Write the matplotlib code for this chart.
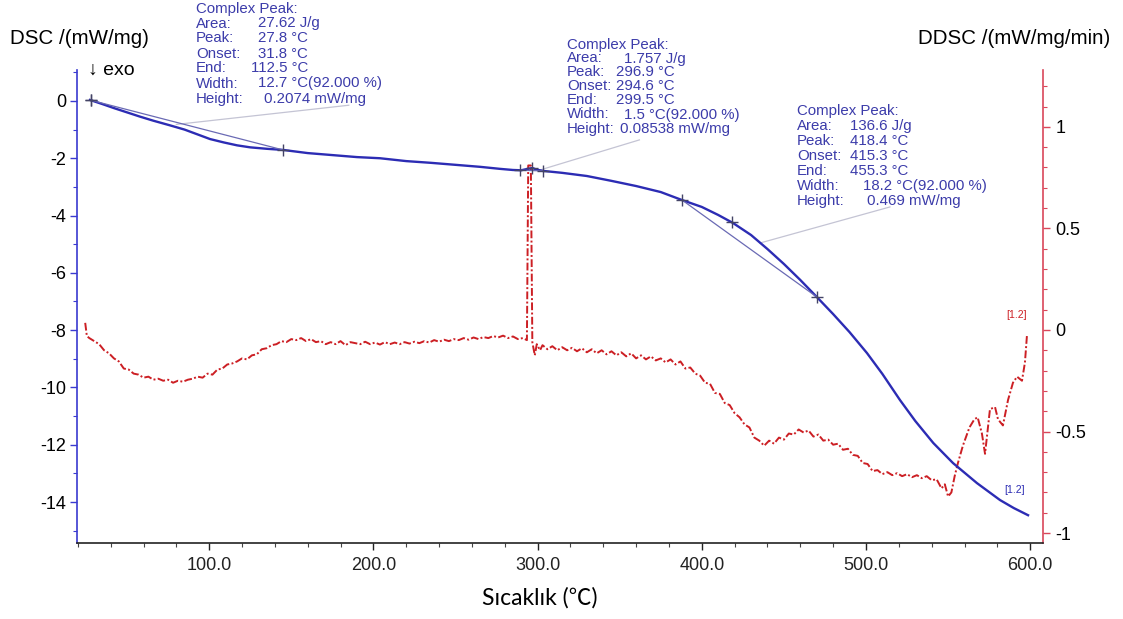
import matplotlib
matplotlib.use("Agg")
import matplotlib.pyplot as plt
from matplotlib.ticker import MultipleLocator, FixedLocator, FuncFormatter

plt.rcParams["font.family"] = ["Liberation Sans", "DejaVu Sans"]
plt.rcParams["axes.unicode_minus"] = False

# ---- DSC signal (left axis, mW/mg) ----
dsc_temp = [27.4, 35, 42, 50, 58, 66, 76, 85, 93, 100.5, 109, 117, 125, 135, 145,
            160, 175, 190, 204, 220, 235, 250, 265, 277, 285, 290, 294, 296.9, 299,
            303, 315, 330, 345, 360, 375, 388, 400, 410, 419, 430, 440, 450, 460,
            470, 480, 490, 500.6, 510, 520.7, 530, 541, 553, 567.6, 581.6, 590, 598.7]
dsc_vals = [0.035, -0.11, -0.25, -0.40, -0.55, -0.69, -0.85, -1.0, -1.17, -1.33,
            -1.45, -1.55, -1.62, -1.67, -1.71,
            -1.82, -1.89, -1.96, -2.0, -2.1, -2.16, -2.23, -2.30, -2.37, -2.41, -2.42,
            -2.37, -2.34, -2.39,
            -2.44, -2.51, -2.62, -2.79, -2.97, -3.18, -3.46, -3.70, -3.98, -4.26,
            -4.68, -5.17, -5.69, -6.25,
            -6.84, -7.44, -8.07, -8.8, -9.53, -10.44, -11.17, -11.94, -12.64, -13.34,
            -13.93, -14.21, -14.46]

# ---- DDSC signal (right axis, mW/mg/min) ----
ddsc_temp = [24.5, 25.5, 27, 30, 33, 36, 39, 42, 45, 48, 51, 54, 57, 60, 63, 66, 69,
             72, 75, 78, 81, 84, 87, 90, 93, 96, 99, 102, 105, 108, 111, 114, 117,
             120, 123, 126, 129, 132, 135, 138, 141, 144, 147, 150, 153, 156, 159,
             162, 165, 168, 171, 174, 177, 180, 183, 186, 189, 192, 195, 198, 201,
             204, 207, 210, 213, 216, 219, 222, 225, 228, 231, 234, 237, 240, 243,
             246, 249, 252, 255, 258, 261, 264, 267, 270, 273, 276, 279, 282, 285,
             288, 291, 293.5, 294.3, 295.9, 296.8, 298.3, 299.5, 301.5, 303, 306,
             309, 312, 315, 318, 321, 324, 327, 330, 333, 336, 339, 342, 345, 348,
             351, 354, 357, 360, 363, 366, 369, 372, 375, 378, 381, 384, 387, 390,
             393, 396, 399, 402, 405, 408, 411, 414, 417, 420, 423, 426, 429, 432,
             435, 438, 441, 444, 447, 450, 453, 456, 459, 462, 465, 468, 471, 474,
             477, 480, 483, 486, 489, 492, 495, 498, 501, 504, 507, 510, 513, 516,
             519, 522, 525, 528, 531, 534, 537, 540, 543, 546, 548, 550, 552, 554,
             556, 559, 563, 566, 568, 570.6, 572.5, 575.5, 578.6, 580.4, 583.4,
             586.5, 589.5, 592, 595, 596.8, 598]
ddsc_vals = [0.035, -0.03, -0.04, -0.055, -0.07, -0.10, -0.115, -0.14, -0.155, -0.19,
             -0.195, -0.215, -0.22, -0.235, -0.23, -0.245, -0.24, -0.25, -0.245,
             -0.26, -0.25, -0.255, -0.245, -0.24, -0.23, -0.235, -0.215, -0.22,
             -0.195, -0.19, -0.17, -0.165, -0.155, -0.14, -0.145, -0.125, -0.12,
             -0.095, -0.09, -0.075, -0.07, -0.055, -0.06, -0.045, -0.05, -0.04,
             -0.055, -0.045, -0.06, -0.055, -0.07, -0.06, -0.07, -0.055, -0.075,
             -0.06, -0.065, -0.07, -0.058, -0.07, -0.062, -0.072, -0.06, -0.07,
             -0.062, -0.07, -0.06, -0.067, -0.058, -0.065, -0.055, -0.062, -0.05,
             -0.058, -0.048, -0.055, -0.045, -0.05, -0.04, -0.048, -0.037, -0.045,
             -0.035, -0.04, -0.03, -0.037, -0.028, -0.04, -0.032, -0.045, -0.04,
             -0.05, 0.81, 0.81, -0.06, -0.125, -0.07, -0.10, -0.075, -0.095, -0.08,
             -0.10, -0.085, -0.10, -0.088, -0.105, -0.09, -0.11, -0.095, -0.115,
             -0.10, -0.12, -0.105, -0.125, -0.11, -0.13, -0.115, -0.14, -0.125,
             -0.145, -0.13, -0.15, -0.14, -0.16, -0.145, -0.17, -0.155, -0.19,
             -0.185, -0.215, -0.225, -0.26, -0.265, -0.31, -0.315, -0.36, -0.37,
             -0.41, -0.43, -0.465, -0.48, -0.53, -0.545, -0.57, -0.545, -0.56,
             -0.53, -0.54, -0.51, -0.515, -0.49, -0.505, -0.495, -0.525, -0.515,
             -0.545, -0.54, -0.565, -0.56, -0.59, -0.585, -0.615, -0.62, -0.655,
             -0.66, -0.695, -0.69, -0.71, -0.70, -0.715, -0.705, -0.72, -0.71,
             -0.725, -0.715, -0.73, -0.72, -0.74, -0.735, -0.78, -0.76, -0.82,
             -0.80, -0.72, -0.655, -0.57, -0.48, -0.44, -0.43, -0.51, -0.61, -0.39,
             -0.38, -0.44, -0.47, -0.345, -0.26, -0.23, -0.25, -0.16, -0.03]

# ---- peak evaluations ----
peak_limits = [(27.8, 145.0), (289.3, 303.3), (388.0, 470.0)]
peak_temps = [27.8, 296.9, 418.4]
peak_text = [
    ["27.62 J/g", "27.8 °C", "31.8 °C", "112.5 °C", "12.7 °C(92.000 %)", "0.2074 mW/mg"],
    ["1.757 J/g", "296.9 °C", "294.6 °C", "299.5 °C", "1.5 °C(92.000 %)", "0.08538 mW/mg"],
    ["136.6 J/g", "418.4 °C", "415.3 °C", "455.3 °C", "18.2 °C(92.000 %)", "0.469 mW/mg"],
]
row_names = ["Area:", "Peak:", "Onset:", "End:", "Width:", "Height:"]

BLUE = "#2c2cb4"
TXT_BLUE = "#3c3caa"
RED = "#cc1f24"
RED_AX = "#d9475a"
ANN_SIZE = 10.8

W, H = 1123, 619
fig = plt.figure(figsize=(W / 100, H / 100), dpi=100)
ax = fig.add_axes([77 / W, 1 - 543 / H, (1043 - 77) / W, (543 - 70) / H])
ax2 = ax.twinx()

ax.set_xlim(19.5, 607.8)
ax.set_ylim(-15.43, 1.08)
ax2.set_ylim(-1.049, 1.28)


def interp(xs, ys, x):
    for i in range(len(xs) - 1):
        if xs[i] <= x <= xs[i + 1]:
            t = (x - xs[i]) / (xs[i + 1] - xs[i])
            return ys[i] + t * (ys[i + 1] - ys[i])
    return ys[-1]


# curves
ax2.plot(ddsc_temp, ddsc_vals, color=RED, lw=1.4, linestyle=(0, (4, 1.2, 1, 1.2)), zorder=2)
ax.plot(dsc_temp, dsc_vals, color=BLUE, lw=1.7, zorder=3)
ax.set_zorder(ax2.get_zorder() + 1)
ax.patch.set_visible(False)

# baselines and markers of the peak evaluations
for (t0, t1), tp in zip(peak_limits, peak_temps):
    y0 = interp(dsc_temp, dsc_vals, t0)
    y1 = interp(dsc_temp, dsc_vals, t1)
    yp = interp(dsc_temp, dsc_vals, tp)
    ax.plot([t0, t1], [y0, y1], color="#6a6ab4", lw=0.9, zorder=3)
    ax.plot([t0, tp, t1], [y0, yp, y1], linestyle="none", marker="+",
            markersize=9, mew=1.0, color="#444466", zorder=4)

# leader lines from the result boxes
leaders = [((80, -0.82), (185, -0.15)), ((301.5, -2.41), (362, -1.36)),
           ((435.4, -4.96), (514.6, -3.70))]
for (xa, ya), (xb, yb) in leaders:
    ax.plot([xa, xb], [ya, yb], color="#c4c4d4", lw=0.9, zorder=2, clip_on=False)

# result boxes, placed in figure pixels
boxes = [(196, 258, 8.5, 15.0, [0, 0, 0, -7, 0, 6]),
         (567, 616, 44.5, 14.0, [8, 0, 0, 0, 8, 4]),
         (797, 850, 111.0, 15.0, [0, 0, 0, 0, 13, 17])]
for (lx, vx, y0, dy, offs), vals in zip(boxes, peak_text):
    fig.text(lx / W, 1 - y0 / H, "Complex Peak:", color=TXT_BLUE, fontsize=ANN_SIZE,
             ha="left", va="center")
    for i, (name, val) in enumerate(zip(row_names, vals)):
        yy = 1 - (y0 + (i + 1) * dy) / H
        fig.text(lx / W, yy, name, color=TXT_BLUE, fontsize=ANN_SIZE, ha="left", va="center")
        fig.text((vx + offs[i]) / W, yy, val, color=TXT_BLUE, fontsize=ANN_SIZE,
                 ha="left", va="center")

# end-of-curve tags
ax2.text(592, 0.05, "[1.2]", color=RED, fontsize=7.5, ha="center", va="bottom")
ax.text(590.7, -13.75, "[1.2]", color=BLUE, fontsize=7.5, ha="center", va="bottom")

# spines
for a in (ax, ax2):
    a.spines["top"].set_visible(False)
ax.spines["right"].set_visible(False)
ax2.spines["left"].set_visible(False)
ax2.spines["bottom"].set_visible(False)
ax.spines["left"].set_color("#3a3ad0")
ax.spines["left"].set_linewidth(1.2)
ax2.spines["right"].set_color(RED_AX)
ax2.spines["right"].set_linewidth(1.2)
ax.spines["bottom"].set_color("#222222")
ax.spines["bottom"].set_linewidth(1.2)

# ticks
ax.xaxis.set_major_locator(FixedLocator([100, 200, 300, 400, 500, 600]))
ax.xaxis.set_minor_locator(FixedLocator(list(range(20, 601, 20))))
ax.xaxis.set_major_formatter(FuncFormatter(lambda v, p: f"{v:.1f}"))
ax.yaxis.set_major_locator(MultipleLocator(2))
ax.yaxis.set_minor_locator(MultipleLocator(1))
ax.yaxis.set_major_formatter(FuncFormatter(lambda v, p: f"{v:.0f}"))
ax2.yaxis.set_major_locator(FixedLocator([-1, -0.5, 0, 0.5, 1]))
ax2.yaxis.set_minor_locator(MultipleLocator(0.1))
ax2.yaxis.set_major_formatter(FuncFormatter(lambda v, p: f"{v:g}"))

ax.tick_params(axis="x", which="major", direction="out", length=5, width=1,
               labelsize=13, pad=5, colors="#222222")
ax.tick_params(axis="x", which="minor", direction="out", length=3, width=0.8, colors="#444444")
ax.tick_params(axis="y", which="major", direction="out", length=5, width=1,
               labelsize=13, pad=3, color="#3a3ad0")
ax.tick_params(axis="y", which="minor", direction="out", length=3, width=0.8, color="#3a3ad0")
ax2.tick_params(axis="y", which="major", direction="out", length=5, width=1,
                labelsize=13, pad=4, color=RED_AX)
ax2.tick_params(axis="y", which="minor", direction="out", length=3, width=0.8, color=RED_AX)

# axis titles
fig.text(10 / W, 1 - 38 / H, "DSC /(mW/mg)", fontsize=14.8, ha="left", va="center")
fig.text(1110 / W, 1 - 38 / H, "DDSC /(mW/mg/min)", fontsize=14.8, ha="right", va="center")
fig.text(88 / W, 1 - 70 / H, "↓ exo", fontsize=14, ha="left", va="center")
fig.text(540 / W, 1 - 598 / H, "Sıcaklık (℃)", fontsize=16.5, ha="center", va="center",
         family=["Lato", "Noto Sans CJK SC"])

fig.savefig("out.png", dpi=100)
